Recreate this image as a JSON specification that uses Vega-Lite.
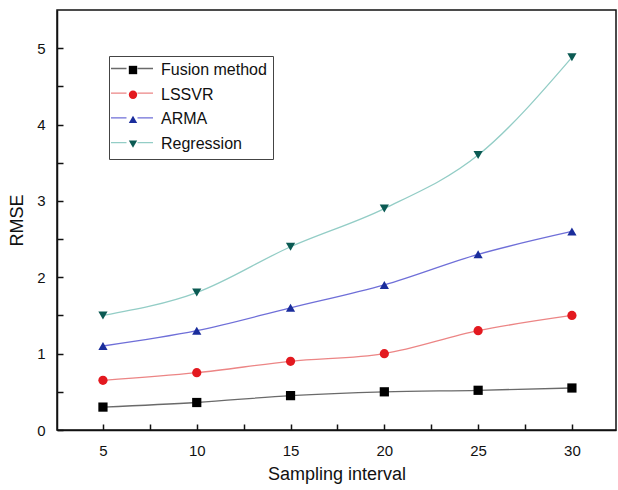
{
  "$schema": "https://vega.github.io/schema/vega-lite/v6.json",
  "autosize": "none",
  "width": 559,
  "height": 420,
  "padding": {"left": 57, "top": 10, "right": 2, "bottom": 60},
  "background": "white",
  "config": {
    "font": "Liberation Sans",
    "view": {"stroke": "#111", "strokeWidth": 1.5},
    "axis": {"grid": false, "ticks": true, "zindex": 1, "domainColor": "#111", "domainWidth": 1.5, "tickColor": "#111", "tickWidth": 1.5, "labelColor": "#111", "titleColor": "#111", "labelFontSize": 15, "titleFontSize": 18, "titleFontWeight": "normal", "labelFont": "Liberation Sans", "titleFont": "Liberation Sans"}
  },
  "data": {
    "values": [
      {"x": 5, "series": "Fusion method", "rmse": 0.30},
      {"x": 10, "series": "Fusion method", "rmse": 0.36},
      {"x": 15, "series": "Fusion method", "rmse": 0.45},
      {"x": 20, "series": "Fusion method", "rmse": 0.50},
      {"x": 25, "series": "Fusion method", "rmse": 0.52},
      {"x": 30, "series": "Fusion method", "rmse": 0.55},
      {"x": 5, "series": "LSSVR", "rmse": 0.65},
      {"x": 10, "series": "LSSVR", "rmse": 0.75},
      {"x": 15, "series": "LSSVR", "rmse": 0.90},
      {"x": 20, "series": "LSSVR", "rmse": 1.00},
      {"x": 25, "series": "LSSVR", "rmse": 1.30},
      {"x": 30, "series": "LSSVR", "rmse": 1.50},
      {"x": 5, "series": "ARMA", "rmse": 1.10},
      {"x": 10, "series": "ARMA", "rmse": 1.30},
      {"x": 15, "series": "ARMA", "rmse": 1.60},
      {"x": 20, "series": "ARMA", "rmse": 1.90},
      {"x": 25, "series": "ARMA", "rmse": 2.30},
      {"x": 30, "series": "ARMA", "rmse": 2.60},
      {"x": 5, "series": "Regression", "rmse": 1.50},
      {"x": 10, "series": "Regression", "rmse": 1.80},
      {"x": 15, "series": "Regression", "rmse": 2.40},
      {"x": 20, "series": "Regression", "rmse": 2.90},
      {"x": 25, "series": "Regression", "rmse": 3.60},
      {"x": 30, "series": "Regression", "rmse": 4.88}
    ]
  },
  "encoding": {
    "x": {
      "field": "x", "type": "quantitative", "title": "Sampling interval",
      "scale": {"domain": [2.55, 32.35], "nice": false, "zero": false},
      "axis": {
        "values": [5, 7.5, 10, 12.5, 15, 17.5, 20, 22.5, 25, 27.5, 30],
        "labelExpr": "datum.value % 5 === 0 ? datum.label : ''",
        "tickSize": -6,
        "labelPadding": 19,
        "titlePadding": 7
      }
    },
    "y": {
      "field": "rmse", "type": "quantitative", "title": "RMSE",
      "scale": {"domain": [0, 5.5], "nice": false},
      "axis": {
        "values": [0, 0.5, 1, 1.5, 2, 2.5, 3, 3.5, 4, 4.5, 5],
        "labelExpr": "datum.value % 1 === 0 ? format(datum.value, 'd') : ''",
        "tickSize": -6,
        "labelPadding": 18,
        "titlePadding": 10,
        "titleFontSize": 18
      }
    }
  },
  "layer": [
    {
      "mark": {"type": "line", "interpolate": "monotone", "strokeWidth": 1.3},
      "encoding": {
        "stroke": {
          "field": "series", "type": "nominal",
          "sort": ["Fusion method", "LSSVR", "ARMA", "Regression"],
          "scale": {"range": ["#6a6a6a", "#ec8585", "#6f6fd8", "#93cdc6"]},
          "legend": {
            "orient": "none", "legendX": 67, "legendY": 50.5, "title": null,
            "symbolType": "M-4.2,0H-1.1M1.1,0H4.2", "symbolSize": 100, "symbolStrokeWidth": 1.3,
            "labelFontSize": 16, "labelExpr": "''", "rowPadding": 8.7, "padding": 0
          }
        }
      }
    },
    {
      "mark": {"type": "point", "filled": true, "opacity": 1, "size": 85},
      "encoding": {
        "fill": {
          "field": "series", "type": "nominal",
          "scale": {"domain": ["Fusion method", "LSSVR", "ARMA", "Regression"], "range": ["#000000", "#e3191f", "#1a2d9c", "#0b5a53"]},
          "legend": {
            "orient": "none", "legendX": 52, "legendY": 46, "title": null,
            "symbolSize": 70, "symbolStrokeWidth": 0, "symbolOffset": 10, "labelOffset": 20,
            "labelFontSize": 16, "labelColor": "#111", "rowPadding": 8.7, "padding": 6,
            "strokeColor": "#444"
          }
        },
        "shape": {
          "field": "series", "type": "nominal",
          "scale": {"domain": ["Fusion method", "LSSVR", "ARMA", "Regression"], "range": ["square", "circle", "triangle-up", "triangle-down"]},
          "legend": {
            "orient": "none", "legendX": 52, "legendY": 46, "title": null,
            "symbolSize": 70, "symbolStrokeWidth": 0, "symbolOffset": 10, "labelOffset": 20,
            "labelFontSize": 16, "labelColor": "#111", "rowPadding": 8.7, "padding": 6,
            "strokeColor": "#444"
          }
        }
      }
    }
  ]
}
